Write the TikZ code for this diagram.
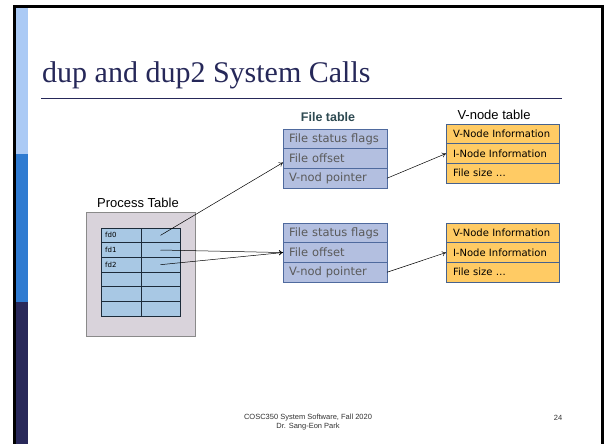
\documentclass[tikz,border=0pt]{standalone}
\usepackage{fontspec}
\setmainfont{Liberation Serif}
\newfontfamily\arialf{Liberation Sans}
\newfontfamily\verdf{DejaVu Sans}
\usetikzlibrary{arrows.meta,calc}

\definecolor{stripA}{HTML}{ABCAF5}
\definecolor{stripB}{HTML}{2F7BD1}
\definecolor{stripC}{HTML}{29295A}
\definecolor{titlecol}{HTML}{262859}
\definecolor{ptfill}{HTML}{D9D3DB}
\definecolor{ptedge}{HTML}{8A8A8A}
\definecolor{cellfill}{HTML}{A8C8E4}
\definecolor{celledge}{HTML}{1C2B3A}
\definecolor{ftfill}{HTML}{B3BFE0}
\definecolor{ftedge}{HTML}{4F6A9E}
\definecolor{fttext}{HTML}{5A5A5A}
\definecolor{vnfill}{HTML}{FFCB64}
\definecolor{vnedge}{HTML}{46628E}
\definecolor{ftlabel}{HTML}{2E4A52}

\begin{document}
\begin{tikzpicture}[x=1pt,y=-1pt,
  ftrow/.style={draw=ftedge, fill=ftfill, line width=0.8pt, minimum height=19.7pt,
    text width=92pt, inner xsep=6pt, inner ysep=0pt, outer sep=0pt, anchor=north west,
    font=\verdf\fontsize{11.5}{12}\selectfont, text=fttext, align=left},
  vnrow/.style={draw=vnedge, fill=vnfill, line width=0.8pt, minimum height=19.7pt,
    text width=99pt, inner xsep=7pt, inner ysep=0pt, outer sep=0pt, anchor=north west,
    font=\verdf\fontsize{10}{11}\selectfont, text=black, align=left},
  cell/.style={draw=celledge, fill=cellfill, line width=0.8pt, minimum width=#1,
    minimum height=14.67pt, inner sep=0pt, outer sep=0pt, anchor=north west},
  fdlabel/.style={font=\verdf\fontsize{7}{8}\selectfont, inner sep=0pt, anchor=west},
  link/.style={-{To[length=4pt,width=5pt]}, line width=0.5pt},
  tablelabel/.style={font=\arialf\fontsize{13}{15}\selectfont, inner sep=0pt}
]
% canvas
\useasboundingbox (0,0) rectangle (604,444);
\fill[white] (0,0) rectangle (604,444);

% slide frame and side strip
\fill[black] (13,5) rectangle (604,8);
\fill[black] (13,5) rectangle (16,444);
\fill[black] (601,5) rectangle (604,444);
\fill[stripA] (16,8) rectangle (28,154);
\fill[stripB] (16,154) rectangle (28,302);
\fill[stripC] (16,302) rectangle (28,444);

% title and rule
\node[anchor=base west, inner sep=0pt, text=titlecol,
  font=\fontsize{30}{36}\selectfont] (title) at (42,82) {dup and dup2 System Calls};
\draw[titlecol, line width=1pt] (41,98) -- (562,98);

% process table
\node[tablelabel, anchor=south] (ptlabel) at (138,208) {Process Table};
\draw[ptedge, fill=ptfill, line width=0.8pt] (86,212) rectangle (195,336);
\foreach \r in {0,...,5}{
  \node[cell=40pt] (pl\r) at (101,{228+14.67*\r}) {};
  \node[cell=39pt] (pr\r) at (141,{228+14.67*\r}) {};
}
\node[fdlabel] (fd0) at ($(pl0.west)+(4,0)$) {fd0};
\node[fdlabel] (fd1) at ($(pl1.west)+(4,0)$) {fd1};
\node[fdlabel] (fd2) at ($(pl2.west)+(4,0)$) {fd2};

% file tables
\node[font=\arialf\bfseries\fontsize{12.5}{14}\selectfont, text=ftlabel, inner sep=0pt]
  (ftlabel) at (328,117) {File table};
\node[ftrow] (ft1a) at (283,129) {File status flags};
\node[ftrow] (ft1b) at (283,148.7) {File offset};
\node[ftrow] (ft1c) at (283,168.4) {V-nod pointer};
\node[ftrow] (ft2a) at (283,223) {File status flags};
\node[ftrow] (ft2b) at (283,242.7) {File offset};
\node[ftrow] (ft2c) at (283,262.4) {V-nod pointer};

% v-node tables
\node[tablelabel] (vnlabel) at (494,115) {V-node table};
\node[vnrow] (vn1a) at (446,124) {V-Node Information};
\node[vnrow] (vn1b) at (446,143.7) {I-Node Information};
\node[vnrow] (vn1c) at (446,163.4) {File size \dots};
\node[vnrow] (vn2a) at (446,223) {V-Node Information};
\node[vnrow] (vn2b) at (446,242.7) {I-Node Information};
\node[vnrow] (vn2c) at (446,262.4) {File size \dots};

% pointers
\draw[link] (pr0.center) -- ($(ft1b.west)+(0,4)$);
\draw[link] (pr1.center) -- (ft2b.west);
\draw[link] (pr2.center) -- (ft2b.west);
\draw[link] (ft1c.east) -- (vn1b.west);
\draw[link] (ft2c.east) -- (vn2b.west);

% footer
\node[font=\arialf\fontsize{7.5}{9}\selectfont, text=black!80, align=center, inner sep=0pt]
  (footer) at (308,422) {COSC350 System Software, Fall 2020\\Dr. Sang-Eon Park};
\node[font=\arialf\fontsize{7.5}{9}\selectfont, text=black!80, inner sep=0pt]
  (pagenum) at (558,418) {24};
\end{tikzpicture}
\end{document}
